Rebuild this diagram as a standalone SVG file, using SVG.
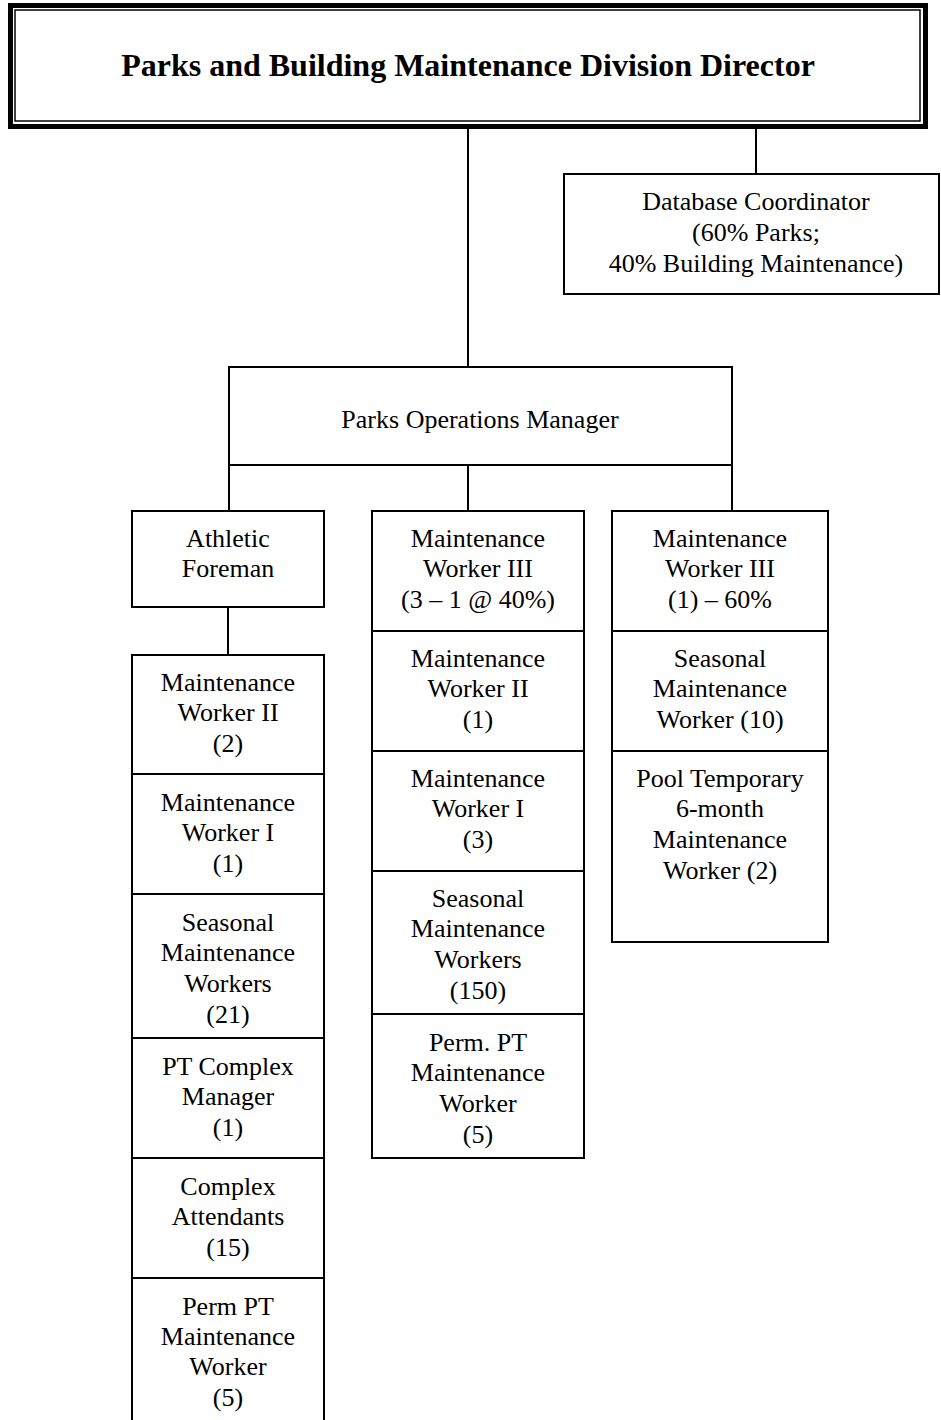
<svg xmlns="http://www.w3.org/2000/svg" width="941" height="1420" viewBox="0 0 941 1420">
<style>
.b{fill:#fff;stroke:#000;stroke-width:2}
.t{font-family:"Liberation Serif","Times New Roman",serif;font-size:26px;fill:#000;text-anchor:middle}
.h{font-family:"Liberation Serif","Times New Roman",serif;font-size:32px;font-weight:bold;fill:#000;text-anchor:middle}
.c line{stroke:#000;stroke-width:2}
</style>
<rect width="941" height="1420" fill="#fff"/>
<g class="c" id="connectors">
<line x1="468" y1="128" x2="468" y2="367"/>
<line x1="756" y1="128" x2="756" y2="174"/>
<line x1="229" y1="465" x2="229" y2="511"/>
<line x1="468" y1="465" x2="468" y2="511"/>
<line x1="732" y1="465" x2="732" y2="511"/>
<line x1="228" y1="607" x2="228" y2="655"/>
</g>
<g id="director">
<rect x="10.5" y="5.5" width="915" height="121" fill="#fff" stroke="#000" stroke-width="5"/>
<rect x="15" y="10" width="905" height="111" fill="none" stroke="#000" stroke-width="1.5"/>
<text class="h" x="468" y="76">Parks and Building Maintenance Division Director</text>
</g>
<g id="database">
<rect class="b" x="564" y="174" width="375" height="120"/>
<text class="t" x="756" y="210">Database Coordinator</text>
<text class="t" x="756" y="241">(60% Parks;</text>
<text class="t" x="756" y="272">40% Building Maintenance)</text>
</g>
<g id="parksops">
<rect class="b" x="229" y="367" width="503" height="98"/>
<text class="t" x="480" y="428">Parks Operations Manager</text>
</g>
<g id="athletic">
<rect class="b" x="132" y="511" width="192" height="96"/>
<text class="t" x="228" y="547">Athletic</text>
<text class="t" x="228" y="577">Foreman</text>
</g>
<g id="l1">
<rect class="b" x="132" y="655" width="192" height="119"/>
<text class="t" x="228" y="691">Maintenance</text>
<text class="t" x="228" y="721">Worker II</text>
<text class="t" x="228" y="752">(2)</text>
</g>
<g id="l2">
<rect class="b" x="132" y="774" width="192" height="120"/>
<text class="t" x="228" y="811">Maintenance</text>
<text class="t" x="228" y="841">Worker I</text>
<text class="t" x="228" y="872">(1)</text>
</g>
<g id="l3">
<rect class="b" x="132" y="894" width="192" height="144"/>
<text class="t" x="228" y="931">Seasonal</text>
<text class="t" x="228" y="961">Maintenance</text>
<text class="t" x="228" y="992">Workers</text>
<text class="t" x="228" y="1023">(21)</text>
</g>
<g id="l4">
<rect class="b" x="132" y="1038" width="192" height="120"/>
<text class="t" x="228" y="1075">PT Complex</text>
<text class="t" x="228" y="1105">Manager</text>
<text class="t" x="228" y="1136">(1)</text>
</g>
<g id="l5">
<rect class="b" x="132" y="1158" width="192" height="120"/>
<text class="t" x="228" y="1195">Complex</text>
<text class="t" x="228" y="1225">Attendants</text>
<text class="t" x="228" y="1256">(15)</text>
</g>
<g id="l6">
<rect class="b" x="132" y="1278" width="192" height="150"/>
<text class="t" x="228" y="1315">Perm PT</text>
<text class="t" x="228" y="1345">Maintenance</text>
<text class="t" x="228" y="1375">Worker</text>
<text class="t" x="228" y="1406">(5)</text>
</g>
<g id="m1">
<rect class="b" x="372" y="511" width="212" height="120"/>
<text class="t" x="478" y="547">Maintenance</text>
<text class="t" x="478" y="577">Worker III</text>
<text class="t" x="478" y="608">(3 – 1 @ 40%)</text>
</g>
<g id="m2">
<rect class="b" x="372" y="631" width="212" height="120"/>
<text class="t" x="478" y="667">Maintenance</text>
<text class="t" x="478" y="697">Worker II</text>
<text class="t" x="478" y="728">(1)</text>
</g>
<g id="m3">
<rect class="b" x="372" y="751" width="212" height="120"/>
<text class="t" x="478" y="787">Maintenance</text>
<text class="t" x="478" y="817">Worker I</text>
<text class="t" x="478" y="848">(3)</text>
</g>
<g id="m4">
<rect class="b" x="372" y="871" width="212" height="143"/>
<text class="t" x="478" y="907">Seasonal</text>
<text class="t" x="478" y="937">Maintenance</text>
<text class="t" x="478" y="968">Workers</text>
<text class="t" x="478" y="999">(150)</text>
</g>
<g id="m5">
<rect class="b" x="372" y="1014" width="212" height="144"/>
<text class="t" x="478" y="1051">Perm. PT</text>
<text class="t" x="478" y="1081">Maintenance</text>
<text class="t" x="478" y="1112">Worker</text>
<text class="t" x="478" y="1143">(5)</text>
</g>
<g id="r1">
<rect class="b" x="612" y="511" width="216" height="120"/>
<text class="t" x="720" y="547">Maintenance</text>
<text class="t" x="720" y="577">Worker III</text>
<text class="t" x="720" y="608">(1) – 60%</text>
</g>
<g id="r2">
<rect class="b" x="612" y="631" width="216" height="120"/>
<text class="t" x="720" y="667">Seasonal</text>
<text class="t" x="720" y="697">Maintenance</text>
<text class="t" x="720" y="728">Worker (10)</text>
</g>
<g id="r3">
<rect class="b" x="612" y="751" width="216" height="191"/>
<text class="t" x="720" y="787">Pool Temporary</text>
<text class="t" x="720" y="817">6-month</text>
<text class="t" x="720" y="848">Maintenance</text>
<text class="t" x="720" y="879">Worker (2)</text>
</g>
</svg>
